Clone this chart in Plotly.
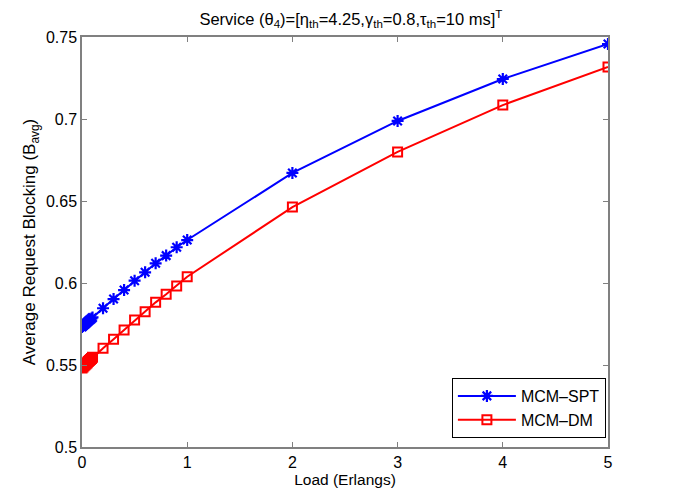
import plotly.graph_objects as go

load = [0, 0.01, 0.02, 0.03, 0.04, 0.05, 0.06, 0.07, 0.08, 0.09, 0.1,
        0.2, 0.3, 0.4, 0.5, 0.6, 0.7, 0.8, 0.9, 1, 2, 3, 4, 5]
spt = [0.5732, 0.5738, 0.5744, 0.5749, 0.5755, 0.5761, 0.5767, 0.5773, 0.5778, 0.5784, 0.5790,
       0.5846, 0.5902, 0.5957, 0.6014, 0.6065, 0.6120, 0.6167, 0.6218, 0.6262,
       0.6671, 0.6988, 0.7244, 0.7457]
dm = [0.5482, 0.5488, 0.5495, 0.5501, 0.5508, 0.5514, 0.5521, 0.5527, 0.5534, 0.5540, 0.5547,
      0.5602, 0.5657, 0.5713, 0.5774, 0.5825, 0.5882, 0.5931, 0.5982, 0.6038,
      0.6463, 0.6799, 0.7085, 0.7317]
x_ticks = [0, 1, 2, 3, 4, 5]
y_ticks = [0.5, 0.55, 0.6, 0.65, 0.7, 0.75]
y_tick_text = ["0.5", "0.55", "0.6", "0.65", "0.7", "0.75"]

font = "Liberation Sans, Arial, sans-serif"

fig = go.Figure()
fig.add_trace(go.Scatter(
    x=load, y=spt, mode="lines+markers", name="MCM\u2013SPT",
    line=dict(color="#0000ff", width=2),
    marker=dict(symbol="asterisk-open", size=10, color="#0000ff",
                line=dict(color="#0000ff", width=2.2)),
))
fig.add_trace(go.Scatter(
    x=load, y=dm, mode="lines+markers", name="MCM\u2013DM",
    line=dict(color="#ff0000", width=2),
    marker=dict(symbol="square-open", size=9, color="#ff0000",
                line=dict(color="#ff0000", width=2)),
))

axis_common = dict(
    showline=True, linecolor="#808080", linewidth=1.5, mirror="ticks",
    ticks="inside", ticklen=5, tickcolor="#808080", showgrid=False, zeroline=False,
    tickfont=dict(family=font, size=16, color="#000"),
)

fig.update_layout(
    width=679, height=494,
    paper_bgcolor="white", plot_bgcolor="white",
    margin=dict(l=74, r=79, t=29, b=55),
    font=dict(family=font, color="#000"),
    title=dict(
        text="Service (\u03b8<sub>4</sub>)=[\u03b7<sub>th</sub>=4.25,\u03b3<sub>th</sub>=0.8,\u03c4<sub>th</sub>=10 ms]<sup>T</sup>",
        x=0.505, xanchor="center", y=1.0, yanchor="top",
        pad=dict(t=5, b=0),
        font=dict(family=font, size=16.5, color="#000"),
    ),
    xaxis=dict(range=[0, 5], tickvals=x_ticks, ticktext=[str(t) for t in x_ticks],
               title=dict(text="Load (Erlangs)", font=dict(family=font, size=15.5), standoff=0),
               **axis_common),
    yaxis=dict(range=[0.5, 0.75], tickvals=y_ticks, ticktext=y_tick_text,
               title=dict(text="Average Request Blocking (B<sub>avg</sub>)",
                          font=dict(family=font, size=17), standoff=6),
               **axis_common),
    legend=dict(x=0.996, y=0.022, xanchor="right", yanchor="bottom",
                bgcolor="white", bordercolor="#000", borderwidth=1,
                font=dict(family=font, size=16), itemwidth=58,
                tracegroupgap=0),
    showlegend=True,
)

fig.write_html("out.html")
